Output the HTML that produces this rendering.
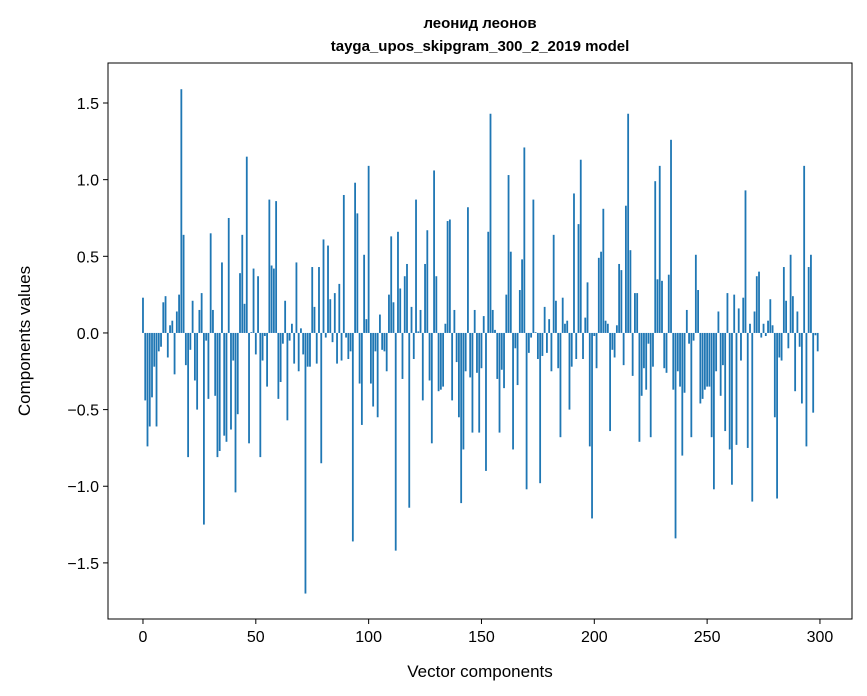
<!DOCTYPE html>
<html><head><meta charset="utf-8"><style>
body{margin:0;background:#fff;}
svg{display:block;font-family:"Liberation Sans","DejaVu Sans",sans-serif;}
</style></head><body>
<svg id="chart" width="867" height="696" viewBox="0 0 867 696" xmlns="http://www.w3.org/2000/svg">
<rect x="0" y="0" width="867" height="696" fill="#fff"/>
<text x="480" y="28" text-anchor="middle" font-size="15" font-weight="bold">леонид леонов</text>
<text x="480" y="51" text-anchor="middle" font-size="15" font-weight="bold">tayga_upos_skipgram_300_2_2019 model</text>
<g id="bars"></g>
<g id="axes"></g>
<text x="480" y="677" text-anchor="middle" font-size="17">Vector components</text>
<text transform="translate(30,341) rotate(-90)" text-anchor="middle" font-size="17">Components values</text>
</svg>
<script>
const values = [0.23,-0.44,-0.74,-0.61,-0.42,-0.22,-0.61,-0.12,-0.09,0.2,0.24,-0.16,0.05,0.08,-0.27,0.14,0.25,1.59,0.64,-0.21,-0.81,-0.11,0.21,-0.31,-0.5,0.15,0.26,-1.25,-0.05,-0.43,0.65,0.15,-0.41,-0.81,-0.77,0.46,-0.67,-0.71,0.75,-0.63,-0.18,-1.04,-0.53,0.39,0.64,0.19,1.15,-0.72,0.005,0.42,-0.14,0.37,-0.81,-0.18,-0.02,-0.35,0.87,0.44,0.42,0.86,-0.43,-0.32,-0.07,0.21,-0.57,-0.05,0.06,-0.2,0.46,-0.25,0.03,-0.14,-1.7,-0.22,-0.22,0.43,0.17,-0.2,0.43,-0.85,0.61,-0.03,0.57,0.22,-0.06,0.26,-0.2,0.32,-0.18,0.9,-0.03,-0.17,-0.12,-1.36,0.98,0.78,-0.33,-0.6,0.51,0.09,1.09,-0.33,-0.48,-0.12,-0.55,0.12,-0.11,-0.12,-0.25,0.25,0.63,0.2,-1.42,0.66,0.29,-0.3,0.37,0.45,-1.14,0.17,-0.17,0.87,0.01,0.15,-0.44,0.45,0.67,-0.31,-0.72,1.06,0.37,-0.38,-0.37,-0.35,0.06,0.73,0.74,-0.44,0.15,-0.19,-0.55,-1.11,-0.76,-0.25,0.82,-0.29,-0.65,0.15,-0.26,-0.65,-0.23,0.11,-0.9,0.66,1.43,0.15,0.02,-0.3,-0.65,-0.24,-0.36,0.25,1.03,0.53,-0.76,-0.1,-0.34,0.28,0.48,1.21,-1.02,-0.13,-0.03,0.87,0.005,-0.17,-0.98,-0.15,0.17,-0.13,0.09,-0.25,0.64,0.21,-0.23,-0.68,0.23,0.06,0.08,-0.5,-0.22,0.91,-0.17,0.71,1.13,-0.17,0.1,0.33,-0.74,-1.21,-0.02,-0.23,0.49,0.53,0.81,0.08,0.06,-0.64,-0.11,-0.16,0.05,0.45,0.41,-0.21,0.83,1.43,0.54,-0.28,0.26,0.26,-0.71,-0.41,-0.23,-0.37,-0.07,-0.68,-0.22,0.99,0.35,1.09,0.34,-0.23,-0.26,0.38,1.26,-0.37,-1.34,-0.25,-0.35,-0.8,-0.39,0.15,-0.07,-0.68,-0.05,0.51,0.28,-0.46,-0.43,-0.37,-0.35,-0.35,-0.68,-1.02,-0.25,0.14,-0.41,-0.21,-0.64,0.26,-0.76,-0.99,0.25,-0.73,0.16,-0.18,0.23,0.93,-0.75,0.06,-1.1,0.14,0.37,0.4,-0.03,0.06,-0.02,0.08,0.22,0.05,-0.55,-1.08,-0.16,-0.18,0.43,0.21,-0.1,0.51,0.24,-0.38,0.14,-0.09,-0.46,1.09,-0.74,0.43,0.51,-0.52,-0.015,-0.12];
const xTicks = [0,50,100,150,200,250,300];
const yTicks = [-1.5,-1.0,-0.5,0.0,0.5,1.0,1.5];
const yTickLabels = ["\u22121.5","\u22121.0","\u22120.5","0.0","0.5","1.0","1.5"];

const L=108,R=852,T=63,B=619;
const xMin=-15.5,xMax=314.2,yMin=-1.866,yMax=1.761;
const xs=v=>L+(v-xMin)/(xMax-xMin)*(R-L);
const ys=v=>B-(v-yMin)/(yMax-yMin)*(B-T);
const NS="http://www.w3.org/2000/svg";
const barsG=document.getElementById('bars');
const axesG=document.getElementById('axes');
function mk(tag,attrs,parent){const e=document.createElementNS(NS,tag);for(const k in attrs)e.setAttribute(k,attrs[k]);parent.appendChild(e);return e;}
values.forEach((v,i)=>{
  const x0=xs(i-0.4),x1=xs(i+0.4);
  const y0=ys(Math.max(v,0)),y1=ys(Math.min(v,0));
  const r=mk('rect',{x:x0,y:y0,width:x1-x0,height:Math.max(y1-y0,0.01),fill:'#1f77b4'},barsG);
  
  
});
const frame=mk('rect',{x:L,y:T,width:R-L,height:B-T,fill:'none',stroke:'#000','stroke-width':1},axesG);


xTicks.forEach(t=>{
  const x=xs(t);
  const ln=mk('line',{x1:x,y1:B,x2:x,y2:B+5,stroke:'#000','stroke-width':1},axesG);
  
  
  const tx=mk('text',{x:x,y:B+23,'text-anchor':'middle','font-size':16},axesG);
  tx.textContent=String(t);
  
  
});
yTicks.forEach((t,i)=>{
  const y=ys(t);
  const ln=mk('line',{x1:L-5,y1:y,x2:L,y2:y,stroke:'#000','stroke-width':1},axesG);
  
  
  const tx=mk('text',{x:L-9,y:y+6,'text-anchor':'end','font-size':16},axesG);
  tx.textContent=yTickLabels[i];
  
  
});
</script>
</body></html>
